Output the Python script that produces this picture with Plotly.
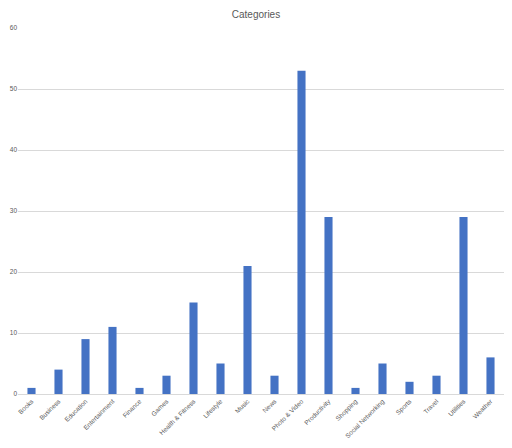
import plotly.graph_objects as go

categories = ['Books', 'Business', 'Education', 'Entertainment', 'Finance', 'Games',
              'Health & Fitness', 'Lifestyle', 'Music', 'News', 'Photo & Video',
              'Productivity', 'Shopping', 'Social Networking', 'Sports', 'Travel',
              'Utilities', 'Weather']
counts = [1, 4, 9, 11, 1, 3, 15, 5, 21, 3, 53, 29, 1, 5, 2, 3, 29, 6]
y_ticks = [0, 10, 20, 30, 40, 50, 60]

# page body has an 8px margin, so the figure is a bit smaller than the window
W, H = 496, 432
ml, mr, mt, mb = 10, 0, 20, 44
pw, ph = W - ml - mr, H - mt - mb

fig = go.Figure(go.Bar(x=categories, y=counts, marker_color='#4472C4',
                       marker_line_width=0))

fig.update_layout(
    width=W, height=H,
    margin=dict(l=ml, r=mr, t=mt, b=mb),
    paper_bgcolor='white', plot_bgcolor='white',
    bargap=0.7,
    showlegend=False,
    font=dict(family='Liberation Sans', color='#595959', size=6.5),
    title=dict(text='Categories', x=0.5, xanchor='center', y=1 - 6 / H, yanchor='middle',
               font=dict(size=10, color='#595959')),
)
fig.update_yaxes(range=[0, 60], tickvals=y_ticks, showgrid=True, gridcolor='#D9D9D9',
                 gridwidth=1, zeroline=False, showline=False, ticks='',
                 tickfont=dict(size=6.5, color='#595959'))
fig.update_xaxes(tickangle=-45, showline=True, linecolor='#D9D9D9', linewidth=1,
                 ticks='', tickfont=dict(size=6.5, color='#595959'))

fig.write_html('out.html')
